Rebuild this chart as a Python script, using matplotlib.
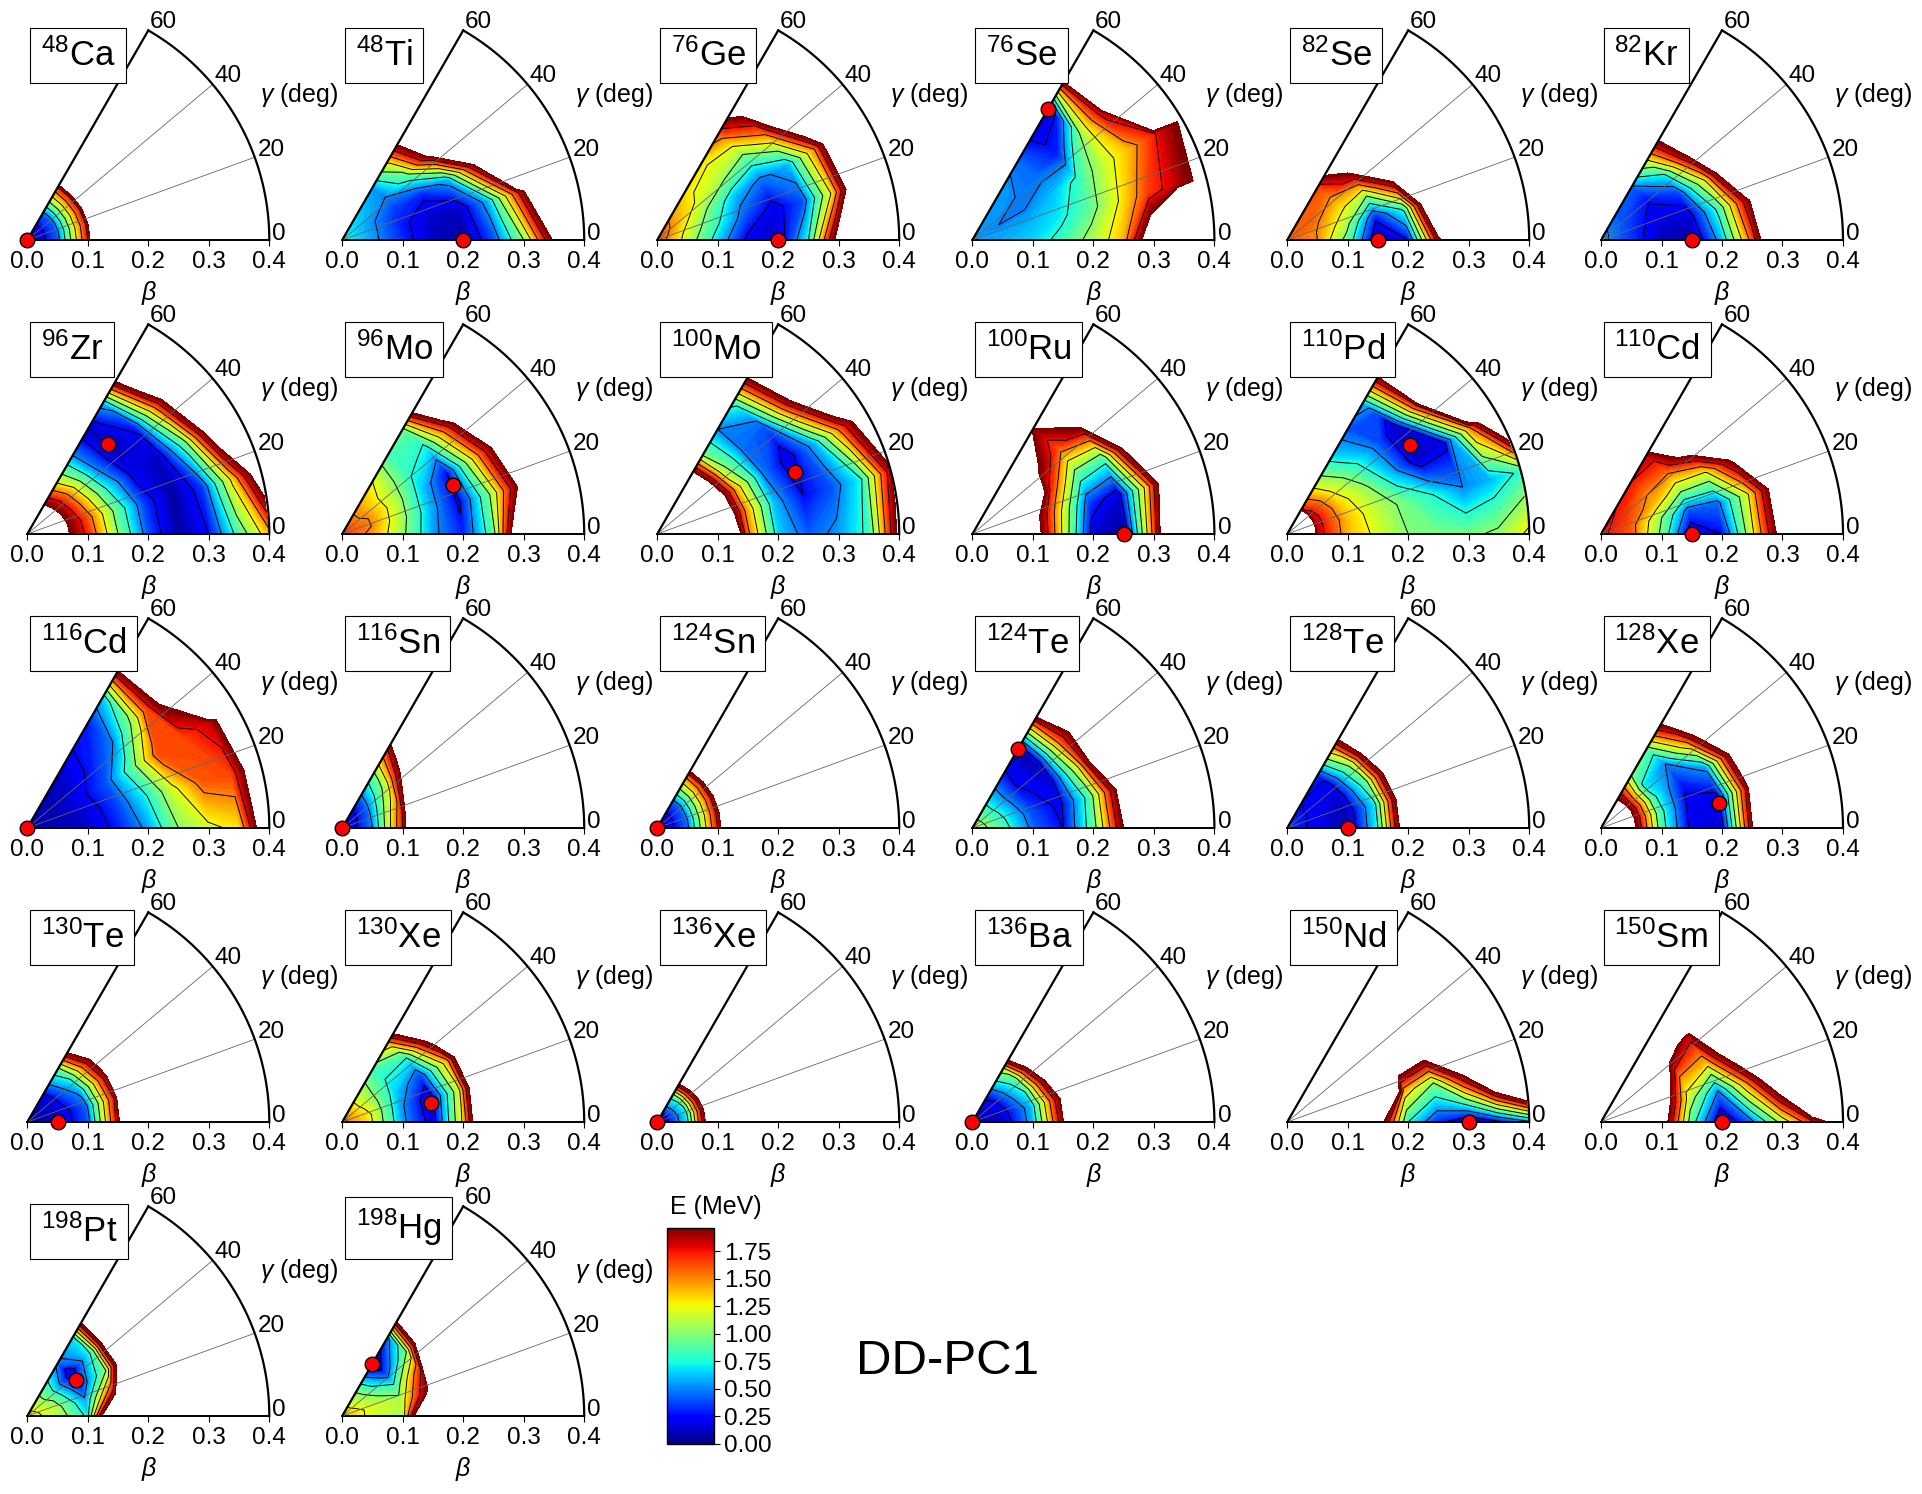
import numpy as np
import matplotlib
matplotlib.use('Agg')
import matplotlib.pyplot as plt
from matplotlib.cm import ScalarMappable
from matplotlib.colors import Normalize

plt.rcParams['font.family'] = ['Liberation Sans', 'DejaVu Sans']
plt.rcParams['mathtext.fontset'] = 'custom'
plt.rcParams['mathtext.rm'] = 'Liberation Sans'
plt.rcParams['mathtext.it'] = 'Liberation Sans:italic'
plt.rcParams['mathtext.default'] = 'regular'

# grid of the surfaces
beta_vals = [0.0, 0.05, 0.10, 0.15, 0.20, 0.25, 0.30, 0.35, 0.40]
gamma_vals = [0, 15, 30, 45, 60]
X = 5.0  # above 2 MeV, left white

# energies, rows = gamma, columns = beta (rest of a row is X)
ca48 = [[0, .42, 1.75], [0, .42, 1.75], [0, .42, 1.75], [0, .42, 1.75], [0, .42, 1.7]]
ti48 = [[.75, .55, .32, .12, .05, .38, 1.0, 2.05],
        [.75, .55, .3, .13, .12, .6, 1.7, 3.0],
        [.75, .55, .35, .3, .6, 2.0],
        [.75, .6, .5, .9, 2.1],
        [.75, .65, .55, 1.3, 2.4]]
ge76 = [[1.65, 1.15, .65, .2, .1, .75, 2.2],
        [1.65, 1.2, .8, .4, .18, .4, 1.3, 2.8],
        [1.65, 1.3, .95, .6, .45, .6, 1.5, 3.0],
        [1.65, 1.4, 1.2, 1.1, 1.0, 1.55, 3.0],
        [1.65, 1.45, 1.3, 1.3, 1.6, 2.2]]
se76 = [[.55, .58, .65, .82, 1.1, 1.4, 2.4],
        [.55, .55, .6, .7, .9, 1.25, 1.65, 1.85, 2.12],
        [.55, .5, .5, .6, .8, 1.15, 1.4, 1.75, 2.05],
        [.55, .55, .5, .45, .3, 1.0, 1.85],
        [.55, .55, .55, .45, .2, .02, 1.9]]
se82 = [[1.6, 1.5, .9, .05, .25, 1.9, 3.0],
        [1.6, 1.5, 1.1, .3, .8, 2.9],
        [1.6, 1.55, 1.3, 1.05, 2.1],
        [1.6, 1.6, 1.5, 1.9, 3.0],
        [1.6, 1.6, 1.65, 2.4]]
kr82 = [[.55, .35, .1, .05, .6, 1.6, 3.0],
        [.55, .35, .15, .15, .8, 1.9, 3.0],
        [.55, .38, .2, .35, 1.3, 3.0],
        [.55, .4, .3, .7, 2.05],
        [.55, .42, .45, 1.2, 2.2]]
zr96 = [[X, 2.2, 1.7, 1.0, .4, .05, .25, .85, 1.4],
        [X, 2.2, 1.65, .95, .35, .05, .35, 1.3, 2.4],
        [X, 2.2, 1.5, .75, .2, .1, .9, 2.4],
        [X, 2.15, 1.4, .55, .05, .3, 1.6, 3.0],
        [X, 2.1, 1.2, .5, .1, .6, 2.3]]
mo96 = [[1.65, 1.45, 1.05, .55, .3, .9, 2.8],
        [1.65, 1.5, 1.1, .6, .22, .95, 2.0],
        [1.65, 1.5, 1.15, .65, .25, 1.3, 2.3],
        [1.65, 1.45, 1.15, .8, .7, 1.75, 3.0],
        [1.65, 1.45, 1.25, .85, .95, 2.6]]
mo100 = [[X, X, 3.5, 1.55, .65, .42, .55, .8, 2.1],
         [X, X, 2.9, 1.5, .6, .25, .4, .75, 1.9],
         [X, X, 2.8, 1.4, .5, .15, .6, 1.6, 2.5],
         [X, X, 2.7, 1.1, .45, .4, 1.7, 3.0],
         [X, X, 2.6, 1.0, .5, .8, 2.05]]
ru100 = [[X, X, 2.3, 1.2, .15, .03, 1.6, 3.5],
         [X, X, 2.3, 1.3, .35, .15, 1.4, 3.0],
         [X, X, 3.0, 1.7, .9, .85, 2.5],
         [X, X, X, 2.05, 1.6, 2.0],
         [X, X, X, 3.0, 1.95]]
pd110 = [[X, 1.85, 1.4, 1.2, 1.0, .95, .95, 1.05, 1.3],
         [X, 1.85, 1.4, 1.15, .95, .75, .5, .6, .8],
         [X, 1.85, 1.35, 1.05, .6, .1, .2, 1.5, 3.0],
         [X, 1.8, 1.25, .85, .5, .1, 1.7],
         [X, 1.7, 1.1, .65, .4, .6, 2.0]]
cd110 = [[1.8, 1.6, .95, .1, .25, 1.2, 2.2],
         [1.8, 1.6, 1.05, .4, .45, 1.2, 2.3],
         [1.8, 1.65, 1.4, 1.1, 1.2, 2.1],
         [1.8, 1.7, 1.55, 1.6, 2.3],
         [1.8, 1.75, 1.75, 1.85, 3.0]]
cd116 = [[.08, .08, .12, .3, .55, 1.0, 1.2, 1.3, 2.5],
         [.08, .08, .15, .35, .7, 1.2, 1.6, 1.65, 2.5],
         [.08, .08, .2, .4, .9, 1.65, 1.65, 1.85, 2.6],
         [.08, .08, .15, .3, .5, 1.1, 2.05],
         [.08, .08, .12, .25, .3, .65, 2.0]]
sn116 = [[0, .5, 1.75, 4.0], [0, .5, 1.65, 4.0], [0, .45, 1.4, 3.3], [0, .4, 1.1, 2.4], [0, .35, .9, 1.75, 3.0]]
sn124 = [[0, .45, 1.75, 4.0], [0, .45, 1.75, 4.0], [0, .45, 1.7, 4.0], [0, .42, 1.65, 4.0], [0, .42, 1.6, 4.0]]
te124 = [[1.15, .85, .45, .25, .9, 2.0],
         [1.15, .8, .4, .2, .85, 2.1],
         [1.15, .75, .3, .15, 1.2, 3.0],
         [1.15, .7, .25, .1, 1.5, 2.5],
         [1.15, .7, .3, .02, 1.55, 3.5]]
te128 = [[.35, .2, .05, .75, 2.5], [.35, .2, .08, .7, 2.5], [.35, .22, .13, .9, 2.6], [.35, .22, .2, 1.1, 3.0], [.35, .25, .3, 1.4, 3.0]]
xe128 = [[X, 2.2, .85, .18, .15, 1.95],
         [X, 2.2, .85, .2, .2, 1.85],
         [X, 2.2, .8, .3, .55, 2.2],
         [X, 2.15, .7, .5, 1.5, 3.0],
         [X, 2.1, 1.0, .9, 2.05]]
te130 = [[.05, .1, .4, 1.85], [.05, .1, .42, 1.8], [.05, .15, .55, 1.9], [.05, .15, .75, 2.1], [.05, .2, .9, 2.6]]
xe130 = [[1.55, 1.25, .55, .15, 1.3, 3.5],
         [1.55, 1.25, .55, .1, 1.2, 3.5],
         [1.55, 1.2, .65, .35, 1.4, 3.5],
         [1.55, 1.15, .75, .75, 2.3],
         [1.55, 1.15, .85, 1.4, 3.0]]
xe136 = [[0, .7, 2.9], [0, .7, 2.9], [0, .75, 3.0], [0, .8, 3.2], [0, .85, 3.4]]
ba136 = [[.05, .1, .6, 1.95], [.05, .15, .6, 2.0], [.05, .2, .75, 2.4], [.05, .25, .9, 2.9], [.05, .3, 1.1, 3.6]]
nd150 = [[X, X, X, 2.3, .75, .3, .03, .2, .45],
         [X, X, X, X, 1.4, 1.0, 2.0, 3.5],
         [X, X, X, X, 2.6, 2.6],
         [X], [X]]
sm150 = [[X, X, 2.3, .85, .05, .45, 1.1, 1.7, 2.3],
         [X, X, 2.5, 1.15, .5, 1.5, 2.6],
         [X, X, 3.0, 1.5, 1.4, 2.6],
         [X, X, X, 2.2, 1.85, 3.0],
         [X]]
pt198 = [[1.35, 1.15, .7, 3.5], [1.35, 1.1, .55, 1.9], [1.35, 1.0, .3, 1.0, 3.5], [1.35, .9, .1, .8, 3.5], [1.35, .9, .45, .7, 3.0]]
hg198 = [[1.4, 1.2, 1.1, 3.5], [1.4, 1.2, 1.1, 2.1], [1.4, 1.1, .8, 1.75], [1.4, 1.0, .35, 1.0, 3.5], [1.4, .95, .02, .45, 3.0]]

mass = ['48', '48', '76', '76', '82', '82',
        '96', '96', '100', '100', '110', '110',
        '116', '116', '124', '124', '128', '128',
        '130', '130', '136', '136', '150', '150',
        '198', '198']
element = ['Ca', 'Ti', 'Ge', 'Se', 'Se', 'Kr',
           'Zr', 'Mo', 'Mo', 'Ru', 'Pd', 'Cd',
           'Cd', 'Sn', 'Sn', 'Te', 'Te', 'Xe',
           'Te', 'Xe', 'Xe', 'Ba', 'Nd', 'Sm',
           'Pt', 'Hg']
surfaces = [ca48, ti48, ge76, se76, se82, kr82,
            zr96, mo96, mo100, ru100, pd110, cd110,
            cd116, sn116, sn124, te124, te128, xe128,
            te130, xe130, xe136, ba136, nd150, sm150,
            pt198, hg198]
# position of the red dot
min_beta = [0, .2, .2, .25, .15, .15,
            .2, .2, .25, .25, .25, .15,
            0, 0, 0, .15, .1, .2,
            .05, .15, 0, 0, .3, .2,
            .1, .1]
min_gamma = [0, 0, 0, 60, 0, 0,
             48, 24, 24, 0, 36, 0,
             0, 0, 0, 60, 0, 12,
             0, 12, 0, 0, 0, 0,
             36, 60]

W, H = 1922, 1494
PX = 605.0  # pixels per unit of beta
col_x = [27.3, 342.2, 657.2, 972.4, 1287.2, 1601.0]
row_y = [240, 534, 828, 1122, 1416]

fig = plt.figure(figsize=(W / 100, H / 100), dpi=100)

levels = np.linspace(0, 2, 81)
lines = [0.25, 0.5, 0.75, 1.0, 1.25, 1.5, 1.75]
norm = Normalize(0, 1.96)

b, g = np.meshgrid(beta_vals, np.radians(gamma_vals))
xx = b * np.cos(g)
yy = b * np.sin(g)
arc = np.radians(np.linspace(0, 60, 121))

for i, surf in enumerate(surfaces):
    x0 = col_x[i % 6]
    base = row_y[i // 6]
    ax = fig.add_axes([x0 / W, (H - base) / H, 242 / W, 242 / H])
    ax.patch.set_visible(False)
    ax.set_xlim(0, 0.4)
    ax.set_ylim(0, 0.4)

    z = np.array([row + [X] * (len(beta_vals) - len(row)) for row in surf], dtype=float)
    ax.contourf(xx, yy, z, levels=levels, cmap='jet', norm=norm, antialiased=False)
    ax.contour(xx, yy, z, levels=lines, colors='k', linewidths=0.7)

    # gamma rays and frame of the sector
    for gm in [20, 40]:
        ax.plot([0, 0.4 * np.cos(np.radians(gm))], [0, 0.4 * np.sin(np.radians(gm))],
                color='#666666', lw=0.6, zorder=3)
    ax.plot(0.4 * np.cos(arc), 0.4 * np.sin(arc), color='k', lw=1.6, zorder=4, clip_on=False)
    ax.plot([0, 0.4 * np.cos(arc[-1])], [0, 0.4 * np.sin(arc[-1])], color='k', lw=1.6, zorder=4)

    for s in ['top', 'left', 'right']:
        ax.spines[s].set_visible(False)
    ax.spines['bottom'].set_linewidth(1.4)
    ax.set_yticks([])
    ax.set_xticks([0, 0.1, 0.2, 0.3, 0.4])
    ax.set_xticklabels(['0.0', '0.1', '0.2', '0.3', '0.4'], fontsize=17.5)
    ax.tick_params(axis='x', length=4, width=0.8, pad=4)
    ax.text(121 / PX, -53 / PX, 'β', fontsize=18, style='italic', ha='center', va='center', clip_on=False)

    ax.text(136 / PX, 217.5 / PX, '60', fontsize=17.5, ha='center', va='center')
    ax.text(201 / PX, 163.5 / PX, '40', fontsize=17.5, ha='center', va='center')
    ax.text(244 / PX, 89.5 / PX, '20', fontsize=17.5, ha='center', va='center')
    ax.text(252 / PX, 5.5 / PX, '0', fontsize=17.5, ha='center', va='center')
    ax.text(233 / PX, 145 / PX, r'$\mathit{\gamma}$ (deg)', fontsize=18, ha='left', va='center')

    bm = np.radians(min_gamma[i])
    ax.plot(min_beta[i] * np.cos(bm), min_beta[i] * np.sin(bm), 'o', color='red', mec='k',
            mew=1.0, ms=10.5, clip_on=False, zorder=6)

    ax.text(13.5 / PX, 167.5 / PX, r'$^{%s}$%s' % (mass[i], element[i]), fontsize=25, ha='left', va='bottom',
            zorder=8, bbox=dict(boxstyle='square,pad=0.3', fc='white', ec='k', lw=0.8))

# colour bar
cax = fig.add_axes([667 / W, (H - 1444) / H, 47 / W, 216 / H])
cb = fig.colorbar(ScalarMappable(norm=norm, cmap='jet'), cax=cax)
cb.set_ticks([0, 0.25, 0.5, 0.75, 1.0, 1.25, 1.5, 1.75])
cb.set_ticklabels(['0.00', '0.25', '0.50', '0.75', '1.00', '1.25', '1.50', '1.75'], fontsize=17.5)
cb.ax.tick_params(length=4, width=0.8, pad=3)
cb.outline.set_linewidth(1.0)
fig.text(716 / W, (H - 1207) / H, 'E (MeV)', fontsize=18, ha='center', va='center')

fig.text(947 / W, (H - 1361) / H, 'DD-PC1', fontsize=35.5, ha='center', va='center')

fig.savefig('out.png', dpi=100)
